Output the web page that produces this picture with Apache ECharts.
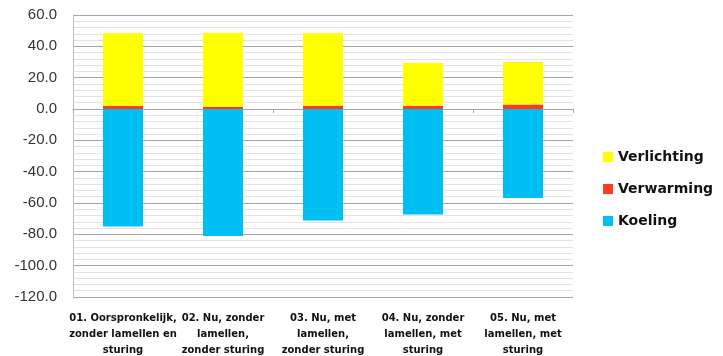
<!DOCTYPE html>
<html>
<head>
    <meta charset="utf-8">
    <title>Energie</title>
    <script src="https://cdn.jsdelivr.net/npm/echarts@6/dist/echarts.min.js"></script>
</head>
<body style="margin:0;background:#fff">
<div id="main" style="width:723px;height:356px;"></div>
<script type="text/javascript">
    var categories = [
        '01. Oorspronkelijk,\nzonder lamellen en\nsturing',
        '02. Nu, zonder\nlamellen,\nzonder sturing',
        '03. Nu, met\nlamellen,\nzonder sturing',
        '04. Nu, zonder\nlamellen, met\nsturing',
        '05. Nu, met\nlamellen, met\nsturing'
    ];
    var verlichting = [46.3, 47.0, 46.3, 27.4, 27.2];
    var verwarming = [2.0, 1.5, 2.0, 2.0, 2.8];
    var koeling = [-75.0, -81.0, -71.2, -67.3, -56.8];
    var yTicks = [-120, -100, -80, -60, -40, -20, 0, 20, 40, 60];

    var myChart = echarts.init(document.getElementById('main'));

    var option = {
        animation: false,
        grid: {left: 73, right: 150, top: 15, bottom: 59, outerBoundsMode: 'none'},
        legend: {
            orient: 'vertical',
            left: 603,
            top: 150,
            padding: 0,
            itemWidth: 10,
            itemHeight: 10,
            itemGap: 18,
            icon: 'rect',
            data: ['Verlichting', 'Verwarming', 'Koeling'],
            textStyle: {fontFamily: 'DejaVu Sans', fontWeight: 'bold', fontSize: 14, color: '#111'}
        },
        xAxis: [{
            type: 'category',
            data: categories,
            position: 'bottom',
            axisLine: {show: false, onZero: false},
            axisTick: {show: false},
            axisLabel: {
                margin: 13,
                interval: 0,
                fontFamily: 'DejaVu Sans',
                fontWeight: 'bold',
                fontSize: 10,
                lineHeight: 16,
                color: '#111'
            }
        }, {
            type: 'category',
            data: categories,
            position: 'top',
            axisLine: {onZero: true, lineStyle: {color: '#a6a6a6'}},
            axisTick: {show: true, inside: true, length: 4, lineStyle: {color: '#a6a6a6'}},
            axisLabel: {show: false}
        }],
        yAxis: {
            type: 'value',
            min: yTicks[0],
            max: yTicks[yTicks.length - 1],
            interval: 20,
            axisLine: {show: true, lineStyle: {color: '#bfbfbf'}},
            axisTick: {show: false},
            axisLabel: {
                margin: 16,
                fontFamily: 'Liberation Sans',
                fontSize: 15,
                color: '#333',
                formatter: function (v) { return v.toFixed(1); }
            },
            splitLine: {lineStyle: {color: '#a6a6a6'}},
            minorTick: {show: false, splitNumber: 5},
            minorSplitLine: {show: true, lineStyle: {color: '#e3e3e3'}}
        },
        series: [{
            name: 'Koeling',
            type: 'bar',
            stack: 'e',
            barWidth: 40,
            data: koeling,
            itemStyle: {color: '#00bff3'}
        }, {
            name: 'Verwarming',
            type: 'bar',
            stack: 'e',
            barWidth: 40,
            data: verwarming,
            itemStyle: {color: '#ff3a1a'}
        }, {
            name: 'Verlichting',
            type: 'bar',
            stack: 'e',
            barWidth: 40,
            data: verlichting,
            itemStyle: {color: '#ffff00'}
        }]
    };

    myChart.setOption(option);
</script>
</body>
</html>
